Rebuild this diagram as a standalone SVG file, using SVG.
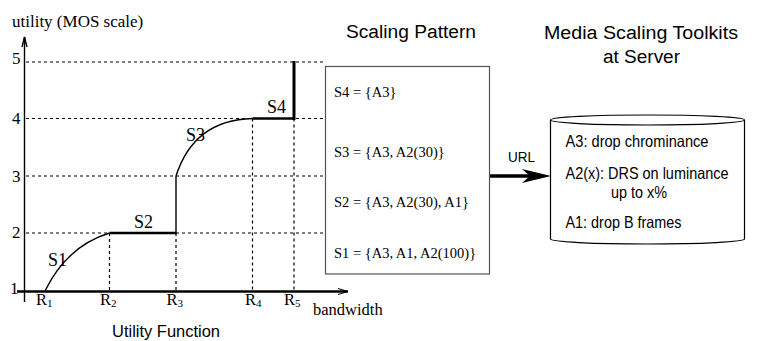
<svg xmlns="http://www.w3.org/2000/svg" width="757" height="341" viewBox="0 0 757 341">
<style>
.serif{font-family:"Liberation Serif","Times New Roman",serif;fill:#000}
.sans{font-family:"Liberation Sans",Arial,sans-serif;fill:#000}
.grid{stroke:#000;stroke-width:1.2;stroke-dasharray:3 3;fill:none}
.thin{stroke:#000;stroke-width:1.4;fill:none}
.thick{stroke:#000;stroke-width:2.6;fill:none}
</style>
<rect width="757" height="341" fill="#fff"/>
<g id="utility-function">
  <g id="grid">
    <line class="grid" x1="26" y1="62" x2="325" y2="62"/>
    <line class="grid" x1="26" y1="118.5" x2="325" y2="118.5"/>
    <line class="grid" x1="26" y1="176" x2="325" y2="176"/>
    <line class="grid" x1="26" y1="233" x2="325" y2="233"/>
    <line class="grid" x1="109.5" y1="233" x2="109.5" y2="291"/>
    <line class="grid" x1="176" y1="233" x2="176" y2="291"/>
    <line class="grid" x1="252.5" y1="118.5" x2="252.5" y2="291"/>
    <line class="grid" x1="294" y1="118.5" x2="294" y2="291"/>
  </g>
  <g id="axes">
    <line class="thin" x1="24.5" y1="37" x2="24.5" y2="302"/>
    <path class="thin" d="M22 47 L24.5 37 L27 47" stroke-width="1"/>
    <line x1="17" y1="291.5" x2="348" y2="291.5" stroke="#000" stroke-width="2.6"/>
    <path d="M338 288.5 L348 291.5 L338 294.5" fill="none" stroke="#000" stroke-width="1"/>
  </g>
  <g id="curve">
    <path class="thin" d="M45 291 Q67 246 109.5 233"/>
    <line class="thick" x1="109.5" y1="233" x2="176" y2="233"/>
    <line class="thin" x1="176" y1="234" x2="176" y2="176"/>
    <path class="thin" d="M176 176 Q194 120 252.5 118.5"/>
    <line class="thick" x1="252.5" y1="118.5" x2="294" y2="118.5"/>
    <line x1="294" y1="120" x2="294" y2="61" stroke="#000" stroke-width="3"/>
  </g>
  <g id="labels" class="serif">
    <text x="12" y="26.5" font-size="17" class="serif">utility (MOS scale)</text>
    <text x="12" y="64" font-size="17" class="serif">5</text>
    <text x="12" y="124" font-size="17" class="serif">4</text>
    <text x="12" y="181.5" font-size="17" class="serif">3</text>
    <text x="12" y="238" font-size="17" class="serif">2</text>
    <text x="10" y="294" font-size="17" class="serif">1</text>
    <text x="48" y="266" font-size="18" class="serif">S1</text>
    <text x="134" y="228" font-size="18" class="serif">S2</text>
    <text x="186" y="141" font-size="18" class="serif">S3</text>
    <text x="267" y="113" font-size="18" class="serif">S4</text>
    <text x="36" y="305" font-size="16.5" class="serif">R<tspan font-size="11" dy="1.5">1</tspan></text>
    <text x="100" y="305" font-size="16.5" class="serif">R<tspan font-size="11" dy="1.5">2</tspan></text>
    <text x="166.5" y="305" font-size="16.5" class="serif">R<tspan font-size="11" dy="1.5">3</tspan></text>
    <text x="245" y="305" font-size="16.5" class="serif">R<tspan font-size="11" dy="1.5">4</tspan></text>
    <text x="284" y="305" font-size="16.5" class="serif">R<tspan font-size="11" dy="1.5">5</tspan></text>
    <text x="313" y="315" font-size="16.5" class="serif">bandwidth</text>
    <text x="112" y="337" font-size="17" class="sans" textLength="108" lengthAdjust="spacingAndGlyphs">Utility Function</text>
  </g>
</g>
<g id="scaling-pattern">
  <text x="346" y="37.5" font-size="18" class="sans" textLength="130" lengthAdjust="spacingAndGlyphs">Scaling Pattern</text>
  <rect x="325.5" y="66.5" width="164" height="207.5" fill="#fff" stroke="#555" stroke-width="1.2"/>
  <text x="334" y="96.7" font-size="14.5" class="serif">S4 = {A3}</text>
  <text x="334" y="156.7" font-size="14.5" class="serif">S3 = {A3, A2(30)}</text>
  <text x="334" y="206.7" font-size="14.5" class="serif">S2 = {A3, A2(30), A1}</text>
  <text x="334" y="258.3" font-size="14.5" class="serif">S1 = {A3, A1, A2(100)}</text>
</g>
<g id="connectors">
  <line x1="490" y1="176" x2="532" y2="176" stroke="#000" stroke-width="3.5"/>
  <path d="M551 176 L522 169 L530 176 L522 183 Z" fill="#000"/>
  <text x="508" y="162" font-size="15" class="sans" textLength="27" lengthAdjust="spacingAndGlyphs">URL</text>
</g>
<g id="toolkits">
  <text x="544" y="39.3" font-size="18" class="sans" textLength="194" lengthAdjust="spacingAndGlyphs">Media Scaling Toolkits</text>
  <text x="603" y="62.7" font-size="18" class="sans" textLength="77" lengthAdjust="spacingAndGlyphs">at Server</text>
  <path d="M550.5 120 L550.5 239 A97 5 0 0 0 744.5 239 L744.5 120" fill="#fff" stroke="#000" stroke-width="1.2"/>
  <ellipse cx="647.5" cy="120" rx="97" ry="5" fill="#fff" stroke="#000" stroke-width="1.2"/>
  <text x="565.5" y="146.7" font-size="16.5" class="sans" textLength="143" lengthAdjust="spacingAndGlyphs">A3: drop chrominance</text>
  <text x="565.5" y="179" font-size="16.5" class="sans" textLength="163" lengthAdjust="spacingAndGlyphs">A2(x): DRS on luminance</text>
  <text x="611" y="198" font-size="16.5" class="sans" textLength="56" lengthAdjust="spacingAndGlyphs">up to x%</text>
  <text x="565.5" y="227.7" font-size="16.5" class="sans" textLength="116" lengthAdjust="spacingAndGlyphs">A1: drop B frames</text>
</g>
</svg>
